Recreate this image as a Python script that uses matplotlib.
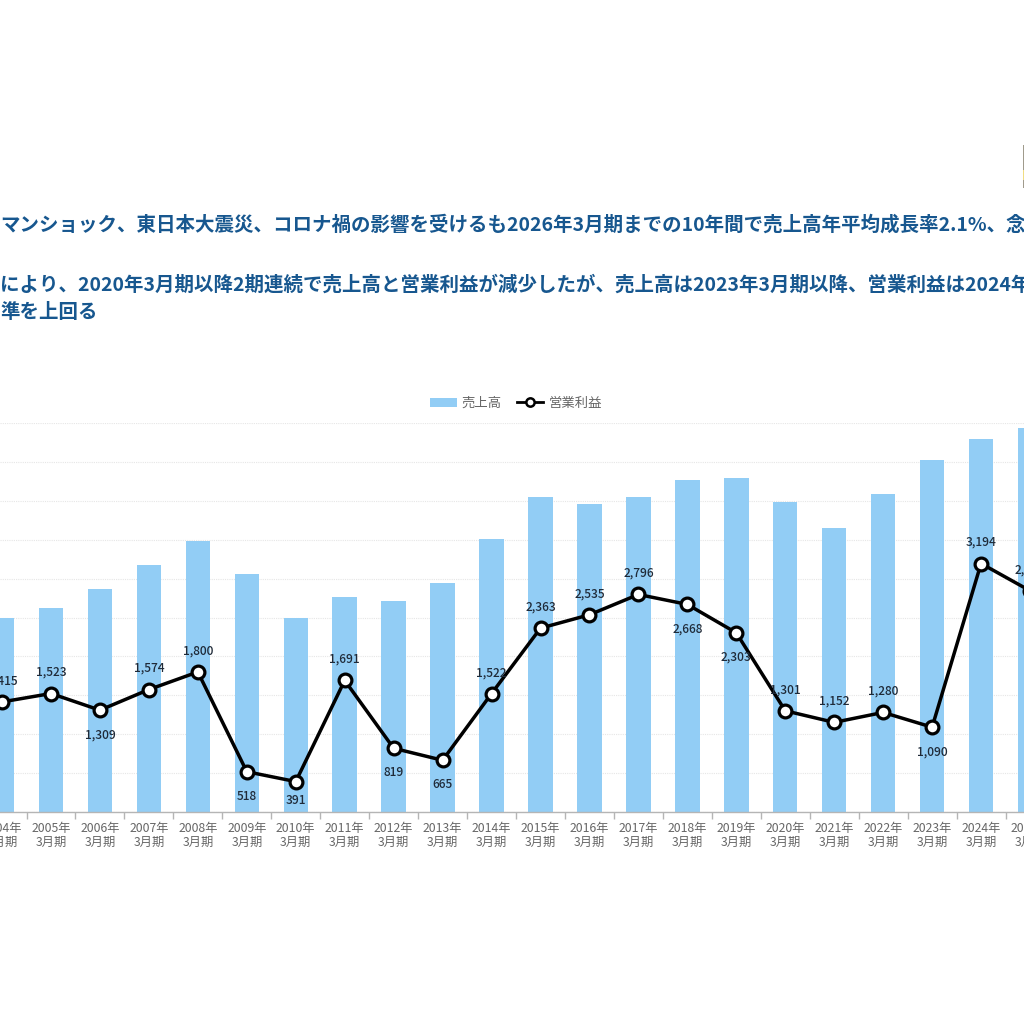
import matplotlib
matplotlib.use("Agg")
import matplotlib.pyplot as plt
from matplotlib.lines import Line2D
from matplotlib.patches import Rectangle

plt.rcParams['font.family'] = ['Noto Sans CJK JP', 'DejaVu Sans']

years = [f"{y}年\n3月期" for y in range(2004, 2026)]
sales = [24970, 26260, 28700, 31790, 34880, 30630, 24970, 27670, 27160, 29470, 35140,
         40540, 39640, 40540, 42730, 42990, 39900, 36550, 40930, 45300, 47880, 49300]
profit = [1415, 1523, 1309, 1574, 1800, 518, 391, 1691, 819, 665, 1522,
          2363, 2535, 2796, 2668, 2303, 1301, 1152, 1280, 1090, 3194, 2844]
label_above = [True, True, False, True, True, False, False, True, False, False, True,
               True, True, True, False, False, True, True, True, False, True, True]
label_text = ["1,415", "1,523", "1,309", "1,574", "1,800", "518", "391", "1,691", "819", "665", "1,522",
              "2,363", "2,535", "2,796", "2,668", "2,303", "1,301", "1,152", "1,280", "1,090", "3,194", "2,844"]
title_lines = ["マンショック、東日本大震災、コロナ禍の影響を受けるも2026年3月期までの10年間で売上高年平均成長率2.1%、念",
               "により、2020年3月期以降2期連続で売上高と営業利益が減少したが、売上高は2023年3月期以降、営業利益は2024年",
               "準を上回る"]
title_y_px = [224.5, 284.5, 312.5]

W = 1024
fig = plt.figure(figsize=(10.24, 10.24), dpi=100)
ax = fig.add_axes([0, 1 - 812 / W, 1, (812 - 423) / W])
ax2 = ax.twinx()
spacing = 48.95
x0 = 2.05
ax.set_zorder(1)
ax2.set_zorder(2)
ax2.patch.set_visible(False)

xs = list(range(len(years)))
bars = ax.bar(xs, sales, width=0.5, color="#92cdf5", label="売上高", zorder=2)
ax.set_yticks(range(0, 50001, 5000))
ax.tick_params(axis='y', length=0, labelleft=False)
ax.grid(axis='y', color="#e6e6e6", lw=0.8, ls=(0, (1, 1)), zorder=0)
ax.set_axisbelow(True)
for s in ['top', 'left', 'right']:
    ax.spines[s].set_visible(False)
    ax2.spines[s].set_visible(False)
ax2.spines['bottom'].set_visible(False)
ax.spines['bottom'].set_color("#b5b5b5")
ax.spines['bottom'].set_linewidth(1.0)

ax.set_xticks([i - 0.5 for i in range(len(years) + 1)])
ax.tick_params(axis='x', length=5, color="#b5b5b5", width=1.0, labelbottom=False)
for x, lab in zip(xs, years):
    ax.annotate(lab, (x, 0), xytext=(0, -7), textcoords='offset points', ha='center', va='top',
                fontsize=8.8, color="#666666", linespacing=1.12, annotation_clip=False)

line, = ax2.plot(xs, profit, color="black", lw=2.5, marker='o', ms=9.2, mfc="white", mec="black",
                 mew=2.3, label="営業利益", solid_joinstyle='miter', zorder=5)
ax2.set_yticks([])
for x, v, t, above in zip(xs, profit, label_text, label_above):
    off = 10.5 if above else (-9 if t == "391" else -13)
    ax2.annotate(t, (x, v), xytext=(0, off), textcoords='offset points',
                 ha='center', va='bottom' if above else 'top', fontsize=8.6, color="#1f2a38",
                 fontweight='medium', annotation_clip=False, zorder=6)

ax.set_ylim(0, 50000)
ax2.set_ylim(0, 5000)
ax.set_xlim(-x0 / spacing, (W - x0) / spacing)

for t, y in zip(title_lines, title_y_px):
    fig.text(0, 1 - y / W, t, fontsize=14.0, fontweight='bold', color="#17578f", ha='left', va='center')

legend_line = Line2D([], [], color="black", lw=2.0, marker='o', ms=6, mfc="white", mec="black", mew=1.8)
fig.legend([bars, legend_line], ["売上高", "営業利益"], loc='center', bbox_to_anchor=(516 / W, 1 - 403 / W), ncol=2,
           frameon=False, fontsize=9.6, labelcolor="#666666", handlelength=2.0, handleheight=0.7,
           columnspacing=1.1, handletextpad=0.4, borderpad=0)

logo_segments = [(145, 170, "#a09b8c"), (170, 180, "#f0dc82"), (180, 188, "#a09b8c")]
for top, bottom, c in logo_segments:
    fig.add_artist(Rectangle((1023 / W, 1 - bottom / W), 1 / W, (bottom - top) / W,
                             transform=fig.transFigure, color=c, lw=0))

fig.savefig("out.png", dpi=100)
